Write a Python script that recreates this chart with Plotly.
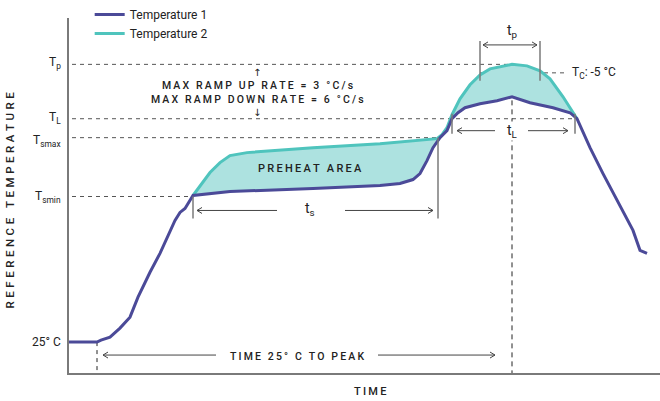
import plotly.graph_objects as go

# Reflow soldering profile (abstract time / temperature units)
t1_time = [0, 28, 32, 41, 51, 61, 69, 81, 91, 106, 111, 116, 124, 161, 244, 311, 331, 344, 351,
           358, 364, 371, 378, 383, 389, 396, 411, 428, 443, 461, 484, 501, 508, 511, 521, 534,
           548, 554, 564, 571, 578]
t1_temp = [31, 31, 33, 36, 45, 56, 76, 101, 120, 153, 161, 165, 178, 182, 185, 188, 190, 194, 200,
           213, 226, 236, 243, 255, 261, 266, 270, 273, 277, 271, 266, 261, 255, 248, 226, 200,
           173, 163, 143, 123, 120]

t2_time = [124, 131, 141, 151, 161, 178, 244, 311, 368, 373, 378, 383, 391, 401, 411, 421, 443,
           458, 471, 481, 494, 501, 508]
t2_temp = [178, 188, 201, 211, 218, 221, 226, 230, 235, 239, 246, 259, 275, 289, 299, 305, 309.5,
           308, 303, 295, 277, 266, 255]

# Reference temperature levels and their label text
level_names = ["T<sub>p</sub>", "T<sub>L</sub>", "T<sub>smax</sub>", "T<sub>smin</sub>", "25° C"]
level_temp = [309.5, 255, 236, 177, 31]
level_end = [443, 508, 371, 124, None]
tc_temp = 301
t_peak = 443
t_start = 28

# Interval markers
ts_bounds = [124, 369]
tl_bounds = [383, 506]
tp_bounds = [411, 471]

X_MAX, Y_MAX = 591, 356

PURPLE = "#4b4a98"
TEAL = "#4fc4bd"
FILL = "#ade2e0"
INK = "#222222"
GREY = "#7a7a7a"
FONT = "Roboto"
SP = "\u2009"


def spaced(s, gap=SP):
    return gap.join(s)


fig = go.Figure()

# shaded band between the two curves
lo = [(x, y) for x, y in zip(t1_time, t1_temp) if t2_time[0] <= x <= t2_time[-1]]
fig.add_trace(go.Scatter(
    x=t2_time + [p[0] for p in reversed(lo)],
    y=t2_temp + [p[1] for p in reversed(lo)],
    fill="toself", fillcolor=FILL, line=dict(width=0), mode="lines",
    showlegend=False, hoverinfo="skip"))

fig.add_trace(go.Scatter(x=t2_time, y=t2_temp, mode="lines", name="Temperature 2",
                         line=dict(color=TEAL, width=3), legendrank=2))
fig.add_trace(go.Scatter(x=t1_time, y=t1_temp, mode="lines", name="Temperature 1",
                         line=dict(color=PURPLE, width=3), legendrank=1))

shapes = []


def seg(x0, y0, x1, y1, color=INK, width=1, dash=None, layer="above"):
    shapes.append(dict(type="line", xref="x", yref="y", x0=x0, y0=y0, x1=x1, y1=y1,
                       line=dict(color=color, width=width, dash=dash), layer=layer))


def arrow(x_from, x_to, y, color="#444444"):
    seg(x_from, y, x_to, y, color=color, width=1)
    d = 1 if x_to > x_from else -1
    seg(x_to, y, x_to - d * 5, y + 3, color=color, width=1)
    seg(x_to, y, x_to - d * 5, y - 3, color=color, width=1)


# dashed reference levels
for temp, end in zip(level_temp, level_end):
    if end is not None:
        seg(3, temp, end, temp, color="#555555", width=1, dash="4px,4px", layer="below")
seg(tp_bounds[0], tc_temp, 498, tc_temp, color="#555555", width=1, dash="4px,4px", layer="below")
seg(t_peak, level_temp[0], t_peak, 0, color=INK, width=1, dash="5px,4px", layer="below")
seg(t_start, level_temp[4], t_start, 0, color=INK, width=1, dash="4px,4px", layer="below")

# interval boundary ticks
seg(ts_bounds[0], level_temp[3], ts_bounds[0], 155, color=GREY, width=1.5)
seg(ts_bounds[1], level_temp[2], ts_bounds[1], 155, color=GREY, width=1.5)
for x in tl_bounds:
    seg(x, 260, x, 240, color=GREY, width=1.5)
for x in tp_bounds:
    seg(x, 333, x, 293, color=GREY, width=1.5)

# interval arrows
arrow(208, 128, 163)
arrow(276, 364, 163)
arrow(426, 388, 243)
arrow(459, 499, 243)
arrow(441, 414, 329)
arrow(441, 468, 329)
arrow(147, 34, 18)
arrow(309, 426, 18)

ann = []


def text(x, y, s, size=11, anchor="center", color=INK, weight=500, family=FONT, **kw):
    # positions are given in data units, placed in paper space so labels
    # outside the plotting area stay visible
    ann.append(dict(x=x / X_MAX, y=y / Y_MAX, xref="paper", yref="paper", text=s,
                    showarrow=False, xanchor=anchor, yanchor="middle",
                    font=dict(family=family, size=size, color=color, weight=weight), **kw))


# level labels on the left
left_y = [311, 256, 233, 176, 31]
for name, y in zip(level_names, left_y):
    text(-6, y, name, size=12, anchor="right", weight="normal")

text(188, 288, spaced("MAX RAMP UP RATE = 3 °C/s"), size=10.5)
text(188, 274, spaced("MAX RAMP DOWN RATE = 6 °C/s"), size=10.5)
text(188, 301, "↑", size=10, weight="normal", family="DejaVu Sans")
text(188, 261, "↓", size=10, weight="normal", family="DejaVu Sans")
text(241, 205, spaced("PREHEAT AREA"), size=11)
text(241, 164, "t<sub>s</sub>", size=14, weight="normal")
text(443, 243, "t<sub>L</sub>", size=14, weight="normal", bgcolor="white", borderpad=0)
text(443, 343, "t<sub>p</sub>", size=14, weight="normal")
text(501, 301, "T<sub>C</sub>: -5 °C", size=12, anchor="left", weight="normal")
text(228, 17, spaced("TIME 25° C TO PEAK"), size=10.5)
text(301, -19, spaced("TIME"), size=11)
text(-59, 173, spaced("REFERENCE TEMPERATURE", "\u2009\u200a"), size=11.5, textangle=-90)

fig.update_layout(
    width=660, height=401,
    margin=dict(l=69, r=0, t=17, b=28),
    paper_bgcolor="white", plot_bgcolor="white",
    shapes=shapes, annotations=ann,
    font=dict(family=FONT, color=INK),
    legend=dict(x=0.035, y=1.05, xanchor="left", yanchor="top", bgcolor="rgba(0,0,0,0)",
                font=dict(family=FONT, size=12, color=INK), itemwidth=30, tracegroupgap=0),
    xaxis=dict(range=[0, X_MAX], showgrid=False, zeroline=False, showticklabels=False,
               ticks="", showline=True, linecolor=GREY, linewidth=1.5, fixedrange=True),
    yaxis=dict(range=[0, Y_MAX], showgrid=False, zeroline=False, showticklabels=False,
               ticks="", showline=True, linecolor=GREY, linewidth=1.5, fixedrange=True),
)

fig.write_html("out.html")
